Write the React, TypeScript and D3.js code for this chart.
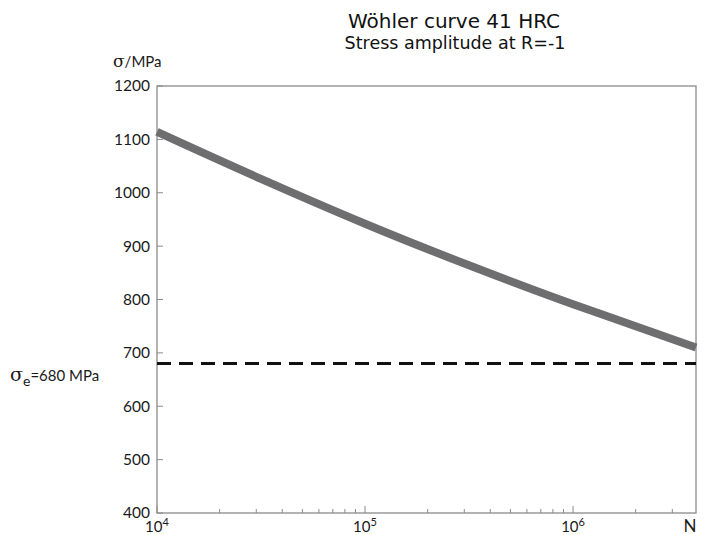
import React from "react";
import * as d3 from "d3";

const cycles = [1e4, 3.16e4, 1e5, 3.16e5, 1e6, 2e6, 3.9e6];
const stress = [1114, 1026, 942, 864, 791, 750, 710];
const yTicks = [400, 500, 600, 700, 800, 900, 1000, 1100, 1200];
const xMajor = [1e4, 1e5, 1e6];
const xExponents = ["4", "5", "6"];
const enduranceLimit = 680;

const W = 705, H = 535;
const L = 157, R = 696, T = 86, B = 513;
const labelFont = "'Lato', 'Open Sans', sans-serif";
const titleFont = "'DejaVu Sans', Verdana, sans-serif";

export default function App() {
  const x = d3.scaleLog().domain([1e4, 3.9e6]).range([L, R]);
  const y = d3.scaleLinear().domain([400, 1200]).range([B, T]);
  const line = d3
    .line<number>()
    .x((_, i) => x(cycles[i]))
    .y((d) => y(d))
    .curve(d3.curveMonotoneX);
  const minor: number[] = [];
  for (let e = 4; e <= 6; e++) {
    for (let k = 2; k <= 9; k++) {
      const v = k * Math.pow(10, e);
      if (v <= 3.9e6) minor.push(v);
    }
  }
  const axisColor = "#8a8a8a";
  return (
    <svg
      width={W}
      height={H}
      style={{ position: "absolute", left: 0, top: 0, background: "#fff" }}
    >
      <text x={454} y={28} textAnchor="middle" fontFamily={titleFont} fontSize={20} fill="#111">
        Wöhler curve 41 HRC
      </text>
      <text x={455} y={49} textAnchor="middle" fontFamily={titleFont} fontSize={17.5} fill="#111">
        Stress amplitude at R=-1
      </text>
      <rect x={L} y={T} width={R - L} height={B - T} fill="none" stroke={axisColor} strokeWidth={1.3} />
      {yTicks.map((t) => (
        <g key={t}>
          <line x1={L} x2={L + 6} y1={y(t)} y2={y(t)} stroke={axisColor} strokeWidth={1} />
          <text x={150} y={y(t)} dy="0.35em" textAnchor="end" fontFamily={labelFont} fontSize={15.5} fill="#1a1a1a">
            {t}
          </text>
        </g>
      ))}
      {minor.map((m) => (
        <line key={m} x1={x(m)} x2={x(m)} y1={B} y2={B - 4} stroke={axisColor} strokeWidth={1} />
      ))}
      {xMajor.map((m, i) => (
        <g key={m}>
          <line x1={x(m)} x2={x(m)} y1={B} y2={B - 7} stroke={axisColor} strokeWidth={1} />
          <text x={x(m)} y={532} textAnchor="middle" fontFamily={labelFont} fontSize={15} fill="#1a1a1a">
            10<tspan fontSize={11} dy={-6}>{xExponents[i]}</tspan>
          </text>
        </g>
      ))}
      <text x={690} y={532} textAnchor="middle" fontFamily={labelFont} fontSize={17} fill="#1a1a1a">
        N
      </text>
      <text x={113} y={67} fontFamily={labelFont} fontSize={15} fill="#1a1a1a">
        <tspan fontFamily="'DejaVu Serif', serif" fontSize={17}>σ</tspan>/MPa
      </text>
      <text x={10} y={381} fontFamily={labelFont} fontSize={15} fill="#1a1a1a">
        <tspan fontFamily="'DejaVu Serif', serif" fontSize={19}>σ</tspan>
        <tspan fontSize={14} dy={5}>e</tspan>
        <tspan dy={-5}>=680 MPa</tspan>
      </text>
      <line
        x1={L}
        x2={R}
        y1={y(enduranceLimit)}
        y2={y(enduranceLimit)}
        stroke="#111"
        strokeWidth={3}
        strokeDasharray="14 8"
      />
      <path d={line(stress) || ""} fill="none" stroke="#6e6e70" strokeWidth={8} />
    </svg>
  );
}
